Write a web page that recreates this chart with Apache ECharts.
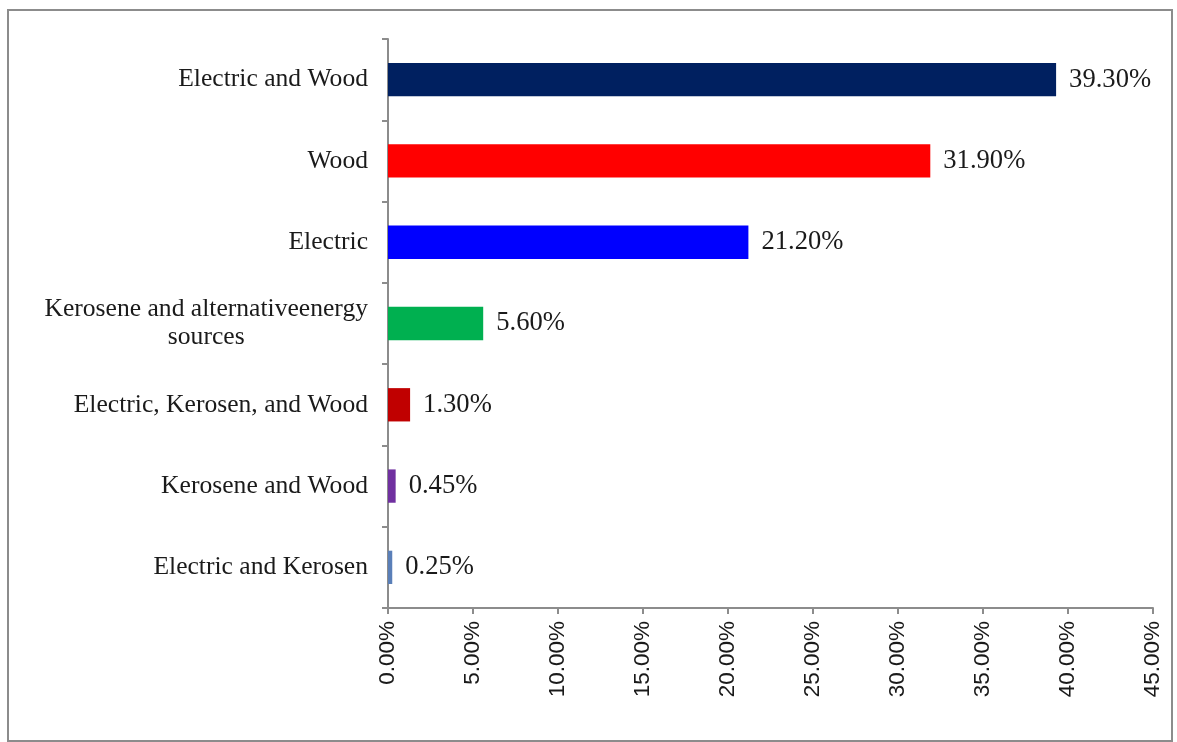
<!DOCTYPE html>
<html>
<head>
<meta charset="utf-8">
<title>Household energy sources</title>
<script src="https://cdn.jsdelivr.net/npm/echarts@6/dist/echarts.min.js"></script>
<style>
  html, body { margin: 0; padding: 0; background: #ffffff; }
  #chart { width: 1177px; height: 742px; }
</style>
</head>
<body>
<div id="chart"></div>
<script>
// Energy source categories, top to bottom
const categories = [
  'Electric and Wood',
  'Wood',
  'Electric',
  'Kerosene and alternativeenergy\nsources',
  'Electric, Kerosen, and Wood',
  'Kerosene and Wood',
  'Electric and Kerosen'
];
// Share of households (%)
const shares = [39.30, 31.90, 21.20, 5.60, 1.30, 0.45, 0.25];
// Bar colours, one per category
const barColors = ['#002060', '#ff0000', '#0000ff', '#00b050', '#c00000', '#7030a0', '#5a7fb8'];
// Value axis ticks
const axisMin = 0, axisMax = 45, axisStep = 5;

const serif = '"Liberation Serif", "Times New Roman", serif';
const sans = '"Liberation Sans", Arial, sans-serif';

const chart = echarts.init(document.getElementById('chart'), null, { renderer: 'canvas' });

chart.setOption({
  backgroundColor: '#ffffff',
  animation: false,
  graphic: [{
    type: 'rect',
    shape: { x: 8, y: 10, width: 1164, height: 731 },
    style: { fill: 'none', stroke: '#8c8c8c', lineWidth: 2 },
    silent: true
  }],
  grid: { left: 388, right: 24, top: 39, bottom: 134, containLabel: false },
  xAxis: {
    type: 'value',
    min: axisMin,
    max: axisMax,
    interval: axisStep,
    splitLine: { show: false },
    axisLine: { show: true, lineStyle: { color: '#8c8c8c', width: 2 } },
    axisTick: { show: true, length: 6, lineStyle: { color: '#8c8c8c', width: 2 } },
    axisLabel: {
      rotate: 90,
      margin: 13,
      color: '#1a1a1a',
      fontFamily: sans,
      fontSize: 22.5,
      formatter: v => v.toFixed(2) + '%'
    }
  },
  yAxis: {
    type: 'category',
    data: categories,
    inverse: true,
    axisLine: { show: true, lineStyle: { color: '#8c8c8c', width: 2 } },
    axisTick: { show: true, length: 6, lineStyle: { color: '#8c8c8c', width: 2 } },
    axisLabel: {
      margin: 20,
      color: '#1a1a1a',
      fontFamily: serif,
      fontSize: 25.6,
      lineHeight: 28,
      formatter: v => v.split('\n').map(s => '{c|' + s + '}').join('\n'),
      rich: {
        c: { align: 'center', fontFamily: serif, fontSize: 25.6, lineHeight: 28, color: '#1a1a1a' }
      }
    }
  },
  series: [{
    type: 'bar',
    data: shares.map((v, i) => ({ value: v, itemStyle: { color: barColors[i] } })),
    barCategoryGap: '59%',
    label: {
      show: true,
      position: 'right',
      distance: 13,
      color: '#1a1a1a',
      fontFamily: serif,
      fontSize: 26.6,
      formatter: p => p.value.toFixed(2) + '%'
    }
  }]
});
</script>
</body>
</html>
